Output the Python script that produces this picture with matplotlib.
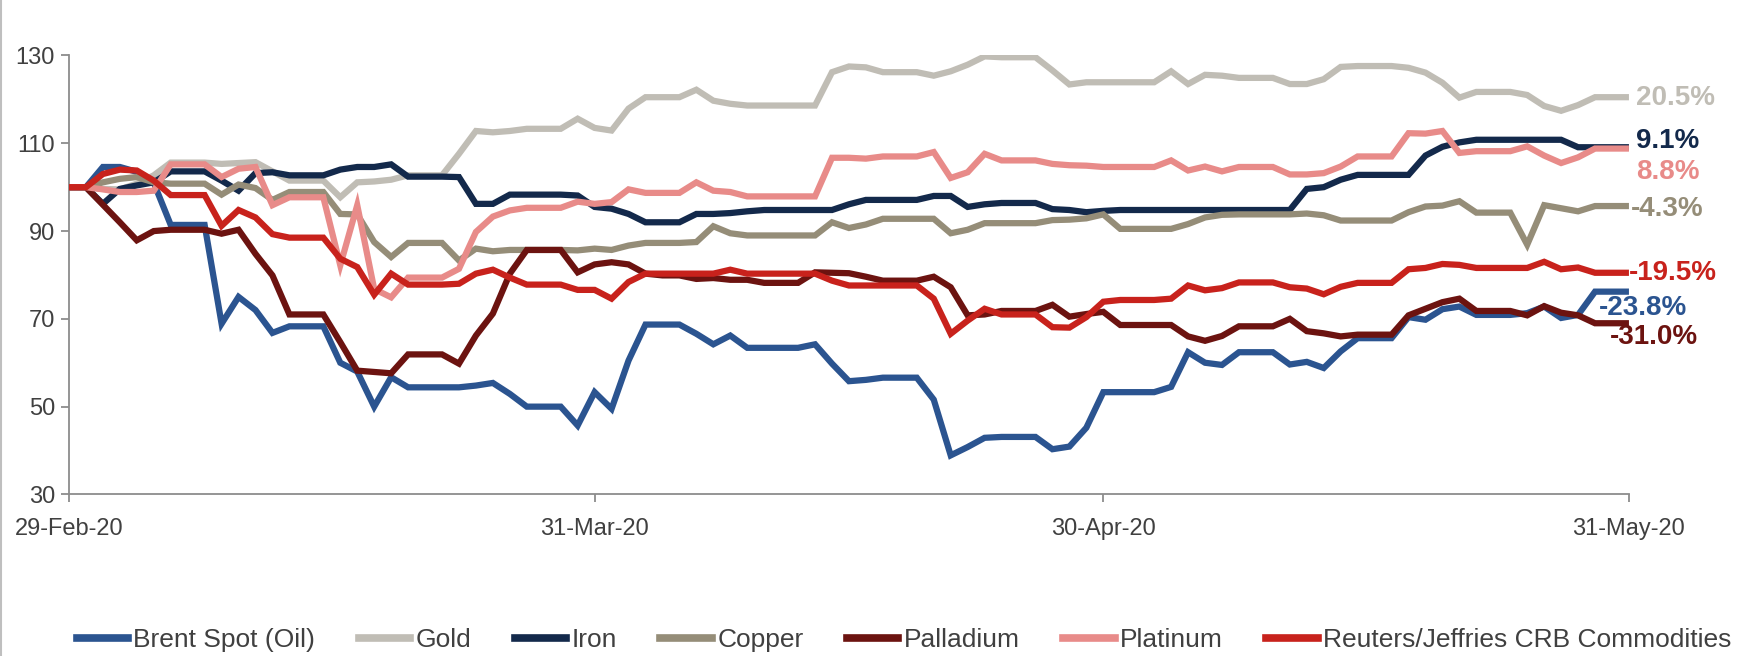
import matplotlib
matplotlib.use("Agg")
import matplotlib.pyplot as plt
from matplotlib.lines import Line2D
import numpy as np

# one value per calendar day, 29-Feb-20 .. 31-May-20 (weekends held flat)
tick_days = [0, 31, 61, 92]
tick_labels = ["29-Feb-20", "31-Mar-20", "30-Apr-20", "31-May-20"]

brent = [100, 100,
         104.6, 104.6, 103.5, 101.0, 91.4, 91.4, 91.4,
         68.9, 75.0, 72.0, 66.8, 68.3, 68.3, 68.3,
         60.0, 58.0, 50.0, 56.7, 54.4, 54.4, 54.4,
         54.4, 54.8, 55.4, 52.9, 50.0, 50.0, 50.0,
         45.7, 53.3, 49.5, 60.5, 68.7, 68.7, 68.7,
         66.6, 64.2, 66.2, 63.4, 63.4, 63.4, 63.4,
         64.2, 59.8, 55.8, 56.1, 56.6, 56.6, 56.6,
         51.6, 38.9, 40.8, 42.9, 43.1, 43.1, 43.1,
         40.3, 40.9, 45.2, 53.3, 53.3, 53.3, 53.3,
         54.5, 62.4, 60.0, 59.5, 62.4, 62.4, 62.4,
         59.6, 60.2, 58.8, 62.6, 65.6, 65.6, 65.6,
         70.4, 69.8, 72.2, 72.8, 70.9, 70.9, 70.9,
         71.3, 72.8, 70.2, 70.9, 76.2, 76.2, 76.2]

gold = [100, 100,
        99.6, 99.5, 100.8, 102.7, 105.6, 105.6, 105.6,
        105.3, 105.5, 105.7, 103.6, 101.5, 101.5, 101.5,
        97.7, 101.1, 101.3, 101.7, 102.7, 102.7, 102.7,
        107.6, 112.8, 112.5, 112.8, 113.3, 113.3, 113.3,
        115.6, 113.5, 112.9, 117.9, 120.5, 120.5, 120.5,
        122.2, 119.7, 119.0, 118.6, 118.6, 118.6, 118.6,
        118.6, 126.2, 127.5, 127.3, 126.2, 126.2, 126.2,
        125.4, 126.4, 127.9, 129.8, 129.6, 129.6, 129.6,
        126.6, 123.4, 123.9, 123.9, 123.9, 123.9, 123.9,
        126.4, 123.5, 125.6, 125.4, 124.9, 124.9, 124.9,
        123.5, 123.5, 124.6, 127.4, 127.6, 127.6, 127.6,
        127.2, 126.1, 123.8, 120.4, 121.7, 121.7, 121.7,
        121.0, 118.5, 117.4, 118.7, 120.5, 120.5, 120.5]

iron = [100, 100,
        96.2, 99.6, 100.4, 101.1, 103.6, 103.6, 103.6,
        101.5, 99.2, 103.2, 103.4, 102.7, 102.7, 102.7,
        104.0, 104.6, 104.6, 105.2, 102.4, 102.4, 102.4,
        102.3, 96.2, 96.2, 98.3, 98.3, 98.3, 98.3,
        98.1, 95.5, 95.1, 93.9, 92.0, 92.0, 92.0,
        93.9, 93.9, 94.1, 94.5, 94.8, 94.8, 94.8,
        94.8, 94.8, 96.1, 97.1, 97.1, 97.1, 97.1,
        98.0, 98.0, 95.5, 96.1, 96.4, 96.4, 96.4,
        95.0, 94.8, 94.3, 94.6, 94.8, 94.8, 94.8,
        94.8, 94.8, 94.8, 94.8, 94.8, 94.8, 94.8,
        94.8, 99.6, 100.0, 101.7, 102.8, 102.8, 102.8,
        102.8, 107.2, 109.2, 110.2, 110.8, 110.8, 110.8,
        110.8, 110.8, 110.8, 109.1, 109.1, 109.1, 109.1]

copper = [100, 100,
          101.1, 101.9, 102.3, 101.1, 100.8, 100.8, 100.8,
          98.3, 100.6, 99.8, 97.1, 98.9, 98.9, 98.9,
          93.9, 93.8, 87.5, 84.1, 87.3, 87.3, 87.3,
          83.3, 86.0, 85.4, 85.7, 85.7, 85.7, 85.7,
          85.6, 86.0, 85.7, 86.7, 87.3, 87.3, 87.3,
          87.5, 91.1, 89.5, 89.0, 89.0, 89.0, 89.0,
          89.0, 92.0, 90.7, 91.5, 92.8, 92.8, 92.8,
          92.8, 89.5, 90.3, 91.8, 91.8, 91.8, 91.8,
          92.5, 92.6, 92.9, 93.8, 90.5, 90.5, 90.5,
          90.5, 91.6, 93.1, 93.7, 93.8, 93.8, 93.8,
          93.8, 94.0, 93.6, 92.4, 92.4, 92.4, 92.4,
          94.3, 95.6, 95.8, 96.8, 94.2, 94.2, 94.2,
          86.9, 95.9, 95.2, 94.5, 95.7, 95.7, 95.7]

palladium = [100, 100,
             96.0, 92.0, 87.9, 90.0, 90.3, 90.3, 90.3,
             89.4, 90.3, 84.8, 79.9, 71.0, 71.0, 71.0,
             64.7, 58.2, 57.9, 57.6, 61.9, 61.9, 61.9,
             59.8, 66.2, 71.2, 80.3, 85.7, 85.7, 85.7,
             80.6, 82.4, 82.9, 82.4, 80.3, 79.9, 79.9,
             79.1, 79.3, 78.9, 78.9, 78.2, 78.2, 78.2,
             80.6, 80.5, 80.4, 79.6, 78.7, 78.7, 78.7,
             79.6, 77.2, 70.8, 71.0, 71.8, 71.8, 71.8,
             73.2, 70.5, 71.1, 71.6, 68.6, 68.6, 68.6,
             68.6, 66.0, 65.0, 66.1, 68.3, 68.3, 68.3,
             70.0, 67.2, 66.7, 66.0, 66.4, 66.4, 66.4,
             70.8, 72.3, 73.8, 74.6, 71.8, 71.8, 71.8,
             70.8, 72.9, 71.4, 70.8, 69.0, 69.0, 69.0]

platinum = [100, 100,
            99.5, 98.9, 98.9, 99.2, 105.2, 105.2, 105.2,
            102.3, 104.2, 104.6, 95.9, 97.7, 97.7, 97.7,
            82.2, 95.9, 76.8, 74.9, 79.4, 79.4, 79.4,
            81.4, 89.8, 93.3, 94.7, 95.3, 95.3, 95.3,
            96.7, 96.2, 96.6, 99.5, 98.7, 98.7, 98.7,
            101.1, 99.2, 98.9, 97.9, 97.9, 97.9, 97.9,
            97.9, 106.7, 106.7, 106.5, 107.0, 107.0, 107.0,
            108.0, 102.1, 103.4, 107.6, 106.1, 106.1, 106.1,
            105.3, 105.0, 104.9, 104.6, 104.6, 104.6, 104.6,
            106.1, 103.8, 104.7, 103.6, 104.6, 104.6, 104.6,
            102.9, 102.9, 103.2, 104.7, 107.0, 107.0, 107.0,
            112.3, 112.2, 112.8, 107.8, 108.2, 108.2, 108.2,
            109.3, 107.2, 105.5, 106.8, 108.8, 108.8, 108.8]

crb = [100, 100,
       103.0, 104.0, 103.8, 101.5, 98.2, 98.2, 98.2,
       91.2, 94.8, 93.1, 89.3, 88.5, 88.5, 88.5,
       83.7, 81.8, 75.5, 80.3, 77.8, 77.8, 77.8,
       78.0, 80.3, 81.2, 79.4, 77.8, 77.8, 77.8,
       76.6, 76.6, 74.6, 78.4, 80.3, 80.3, 80.3,
       80.3, 80.3, 81.2, 80.3, 80.3, 80.3, 80.3,
       80.3, 78.7, 77.6, 77.6, 77.6, 77.6, 77.6,
       74.6, 66.6, 69.6, 72.3, 71.0, 71.0, 71.0,
       68.1, 68.0, 70.4, 73.9, 74.3, 74.3, 74.3,
       74.6, 77.6, 76.5, 77.0, 78.3, 78.3, 78.3,
       77.2, 76.9, 75.6, 77.3, 78.2, 78.2, 78.2,
       81.3, 81.6, 82.5, 82.3, 81.6, 81.6, 81.6,
       81.6, 83.0, 81.3, 81.7, 80.5, 80.5, 80.5]

names = ["Brent Spot (Oil)", "Gold", "Iron", "Copper", "Palladium", "Platinum",
         "Reuters/Jeffries CRB Commodities"]
series = [brent, gold, iron, copper, palladium, platinum, crb]
colors = ["#2B5490", "#C0BDB5", "#13294B", "#958D78", "#6C1310", "#E88B89", "#C8221C"]

end_labels = ["-23.8%", "20.5%", "9.1%", "-4.3%", "-31.0%", "8.8%", "-19.5%"]
# label placement (x in days, y in axis units), layout only
label_x = [90.2, 92.4, 92.4, 92.1, 90.9, 92.4, 92.0]
label_y = [72.4, 120.4, 110.5, 95.0, 65.9, 103.4, 80.4]

plt.rcParams['font.family'] = ['Liberation Sans', 'DejaVu Sans']

fig = plt.figure(figsize=(17.42, 6.56), dpi=100)
ax = fig.add_axes([0.0396, 0.2463, 0.8955, 0.6691])

days = np.arange(len(brent))
order = [1, 3, 2, 5, 4, 6, 0]  # draw order roughly as in the source
for i in order:
    ax.plot(days, series[i], color=colors[i], lw=4.5, solid_joinstyle='miter',
            solid_capstyle='butt', zorder=3 + i * 0.1)

for i in range(len(series)):
    ax.text(label_x[i], label_y[i], end_labels[i], color=colors[i], fontsize=20,
            fontweight='bold', ha='left', va='center', clip_on=False, zorder=6)

ax.set_xlim(0, 92)
ax.set_ylim(30, 130)
ax.set_yticks([30, 50, 70, 90, 110, 130])
ax.set_xticks(tick_days)
ax.set_xticklabels(tick_labels)

for s in ['top', 'right']:
    ax.spines[s].set_visible(False)
for s in ['left', 'bottom']:
    ax.spines[s].set_color('#8C8C8C')
    ax.spines[s].set_linewidth(1.3)
ax.tick_params(axis='both', colors='#8C8C8C', length=6, width=1.3, labelsize=17,
               labelcolor='#404040', pad=4)
ax.tick_params(axis='x', pad=11)

handles = [Line2D([], [], color=c, lw=5.5) for c in colors]
fig.legend(handles, names, loc='center', bbox_to_anchor=(0.519, 0.024), ncol=7,
           frameon=False, fontsize=19, handlelength=1.95, handletextpad=0.2,
           columnspacing=1.65, labelcolor='#404040')

fig.add_artist(Line2D([0.0008, 0.0008], [0.0, 1.0], color='#BFBFBF', lw=1.5))

fig.savefig("out.png", dpi=100)
